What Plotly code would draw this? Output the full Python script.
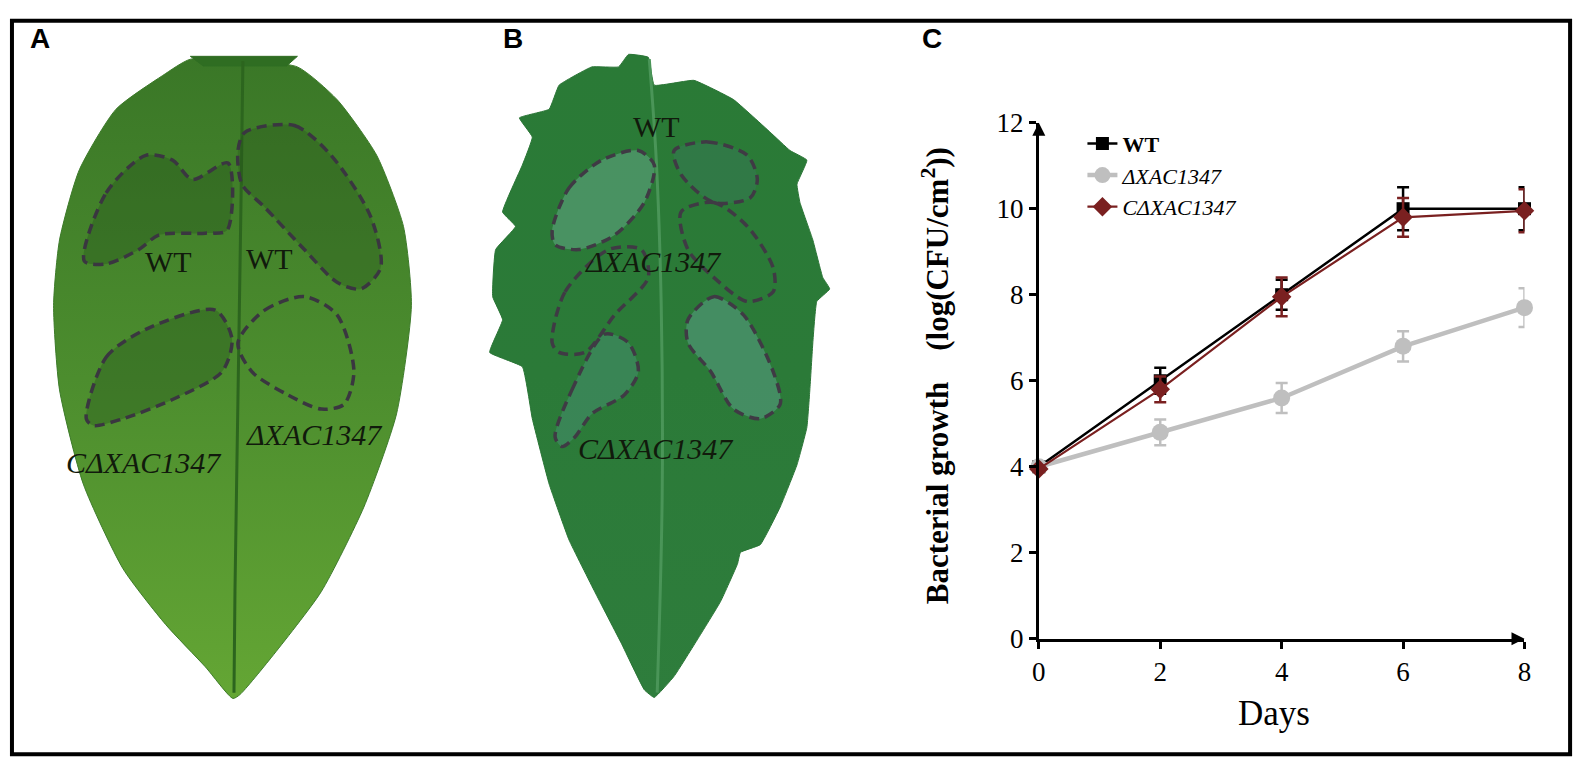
import plotly.graph_objects as go

# ---------------- chart data (panel C) ----------------
days = [0, 2, 4, 6, 8]
wt = [4.0, 6.0, 8.0, 10.0, 10.0]
wt_err = [0.05, 0.3, 0.35, 0.5, 0.5]
dxac = [4.0, 4.8, 5.6, 6.8, 7.7]
dxac_err = [0.05, 0.3, 0.35, 0.35, 0.45]
cdxac = [3.95, 5.8, 7.95, 9.8, 9.95]
cdxac_err = [0.05, 0.3, 0.45, 0.45, 0.5]
x_ticks = [0, 2, 4, 6, 8]
y_ticks = [0, 2, 4, 6, 8, 10, 12]
series_names = ["<b>WT</b>", "<i>ΔXAC1347</i>", "<i>CΔXAC1347</i>"]

W, H = 1587, 774

# ---------------- illustration outlines (panels A, B), pixel space ----------------
leaf_a = [(185, 46), (157, 63), (110, 98), (73, 161), (53, 234), (47, 302), (53, 390),
          (77, 488), (117, 576), (160, 634), (200, 678), (228, 711), (235, 707),
          (267, 668), (317, 600), (360, 512), (393, 415), (408, 302), (400, 220),
          (373, 146), (333, 88), (293, 54), (240, 48)]
leaf_a_petiole = [(185, 43), (293, 43), (282, 53), (198, 53), (185, 43)]
leaf_a_rib = [(238, 48), (236, 200), (233, 400), (230, 600), (229, 705)]
a_lesions = [
    [(78, 256), (100, 185), (140, 146), (167, 151), (187, 171), (223, 154), (222, 224),
     (200, 227), (153, 229), (133, 244), (100, 259), (78, 256)],
    [(240, 122), (290, 115), (327, 146), (367, 210), (377, 263), (357, 285), (333, 278),
     (300, 244), (260, 200), (237, 176), (233, 141), (240, 122)],
    [(80, 420), (100, 356), (140, 327), (210, 307), (227, 337), (217, 371), (167, 400),
     (117, 420), (87, 427), (80, 420)],
    [(233, 341), (260, 307), (300, 293), (333, 312), (350, 371), (340, 405), (317, 410),
     (283, 395), (247, 371), (233, 341)],
]
a_lesion_fill = ["rgba(35,80,25,0.35)", "rgba(35,80,25,0.30)", "rgba(35,80,25,0.35)", "rgba(0,0,0,0)"]
a_labels = [("WT", 163, 256, False), ("WT", 265, 253, False),
            ("ΔXAC1347", 310, 436, True), ("CΔXAC1347", 138, 466, True)]

leaf_b = [(627, 41), (647, 44), (653, 73), (693, 68), (733, 88), (770, 122), (790, 141),
          (807, 151), (797, 176), (800, 195), (813, 234), (823, 273), (830, 285),
          (817, 298), (813, 341), (810, 390), (807, 429), (797, 468), (780, 512),
          (760, 551), (740, 559), (737, 571), (720, 610), (697, 649), (673, 688),
          (653, 710), (643, 702), (620, 654), (593, 600), (567, 546), (547, 488),
          (530, 420), (520, 366), (487, 351), (500, 317), (490, 293), (493, 244),
          (513, 220), (500, 205), (520, 156), (530, 127), (517, 107), (547, 98),
          (557, 73), (590, 54), (617, 54), (627, 41)]
leaf_b_rib = [(648, 46), (655, 150), (660, 300), (661, 500), (656, 705)]
b_lesions = [
    [(550, 224), (567, 180), (600, 151), (637, 141), (653, 156), (643, 195), (613, 229),
     (577, 244), (553, 239), (550, 224)],
    [(673, 141), (707, 132), (747, 146), (757, 171), (750, 190), (713, 195), (680, 166),
     (673, 141)],
    [(680, 205), (713, 195), (747, 220), (773, 263), (773, 288), (747, 298), (713, 273),
     (687, 244), (680, 205)],
    [(550, 341), (563, 288), (607, 244), (640, 244), (647, 273), (613, 312), (583, 351),
     (557, 351), (550, 341)],
    [(553, 439), (570, 390), (603, 332), (627, 341), (637, 371), (623, 395), (590, 415),
     (573, 439), (560, 449), (553, 439)],
    [(687, 317), (713, 293), (743, 312), (773, 371), (780, 405), (760, 420), (733, 410),
     (710, 371), (687, 341), (687, 317)],
]
b_lesion_fill = ["rgba(110,175,150,0.45)", "rgba(60,120,100,0.35)", "rgba(0,0,0,0)",
                 "rgba(0,0,0,0)", "rgba(80,150,130,0.40)", "rgba(100,165,150,0.45)"]
b_labels = [("WT", 655, 116, False), ("ΔXAC1347", 652, 256, True), ("CΔXAC1347", 655, 451, True)]

panel_letters = [("A", 33, 24), ("B", 510, 24), ("C", 933, 24)]

fig = go.Figure()

def deco(pts, **kw):
    fig.add_trace(go.Scatter(x=[p[0] for p in pts], y=[p[1] for p in pts],
                             xaxis="x2", yaxis="y2", showlegend=False,
                             hoverinfo="skip", **kw))

# leaf A
deco(leaf_a + [leaf_a[0]], mode="lines", fill="toself",
     line=dict(color="#3d7b2a", width=1, shape="spline", smoothing=0.6),
     fillcolor="#4b8c2d",
     fillgradient=dict(type="vertical",
                       colorscale=[[0, "#64a634"], [0.5, "#4c8d2e"], [1, "#3a7727"]]))
deco(leaf_a_petiole, mode="lines", fill="toself", line=dict(color="#2f6d22", width=1),
     fillcolor="#2f6d22")
deco(leaf_a_rib, mode="lines", line=dict(color="#2c651e", width=3, shape="spline"))
for pts, fc in zip(a_lesions, a_lesion_fill):
    deco(pts, mode="lines", fill="toself", fillcolor=fc,
         line=dict(color="#3a3640", width=3.5, dash="10px,6px", shape="spline", smoothing=0.8))

# leaf B
deco(leaf_b, mode="lines", fill="toself",
     line=dict(color="#2a7536", width=1, shape="spline", smoothing=0.3),
     fillcolor="#2c7b39",
     fillgradient=dict(type="vertical",
                       colorscale=[[0, "#2e7d3c"], [0.5, "#2b7a38"], [1, "#2a7a36"]]))
deco(leaf_b_rib, mode="lines", line=dict(color="#4a9558", width=3, shape="spline"))
for pts, fc in zip(b_lesions, b_lesion_fill):
    deco(pts, mode="lines", fill="toself", fillcolor=fc,
         line=dict(color="#3f3a44", width=3.5, dash="10px,6px", shape="spline", smoothing=0.8))

# ---------------- chart traces ----------------
styles = [
    (wt, wt_err, "#000000", "square", 13, 2.5),
    (dxac, dxac_err, "#bfbfbf", "circle", 17, 4.5),
    (cdxac, cdxac_err, "#7a2020", "diamond", 15, 2.2),
]
for name, (yv, ev, col, sym, ms, lw) in zip(series_names, styles):
    fig.add_trace(go.Scatter(
        x=days, y=yv, name=name, mode="lines+markers",
        line=dict(color=col, width=lw),
        marker=dict(color=col, symbol=sym, size=ms),
        error_y=dict(type="data", array=ev, color=col, thickness=2.5, width=6),
        cliponaxis=False, xaxis="x", yaxis="y"))

# axis arrowheads (tips at the ends of the axis ranges)
fig.add_trace(go.Scatter(x=[min(x_ticks), max(x_ticks)], y=[max(y_ticks), min(y_ticks)],
                         mode="markers", showlegend=False, hoverinfo="skip", cliponaxis=False,
                         marker=dict(symbol=["arrow-up", "arrow-right"], size=13, color="black"),
                         xaxis="x", yaxis="y"))

tick_font = dict(family="Liberation Serif", size=27, color="black")
x0, x1 = 1041 / W, 1531 / W
y0, y1 = 1 - 649 / H, 1 - 112 / H

annotations = []
for txt, x, y, it in a_labels + b_labels:
    annotations.append(dict(x=x, y=y, xref="x2", yref="y2", showarrow=False,
                            text=f"<i>{txt}</i>" if it else txt,
                            font=dict(family="Liberation Serif", size=30, color="#111a0c")))
for txt, x, y in panel_letters:
    annotations.append(dict(x=x, y=y, xref="x2", yref="y2", showarrow=False,
                            text=f"<b>{txt}</b>",
                            font=dict(family="Liberation Sans", size=28, color="black")))
# axis titles
annotations.append(dict(x=937, y=375, xref="x2", yref="y2", showarrow=False,
                        textangle=-90,
                        text="<b>Bacterial growth\u00a0\u00a0\u00a0\u00a0(log(CFU/cm<sup>2</sup>))</b>",
                        font=dict(family="Liberation Serif", size=31, color="black")))
annotations.append(dict(x=1278, y=727, xref="x2", yref="y2", showarrow=False,
                        text="Days",
                        font=dict(family="Liberation Serif", size=35, color="black")))

fig.update_layout(
    width=W, height=H, autosize=False,
    margin=dict(l=0, r=0, t=0, b=0),
    paper_bgcolor="white", plot_bgcolor="rgba(0,0,0,0)",
    xaxis=dict(domain=[x0, x1], range=[0, 8], tickvals=x_ticks, showgrid=False,
               zeroline=False, showline=True, linecolor="black", linewidth=3,
               ticks="outside", ticklen=7, tickwidth=2.5, tickcolor="black",
               tickfont=tick_font, anchor="y", fixedrange=True),
    yaxis=dict(domain=[y0, y1], range=[0, 12], tickvals=y_ticks, showgrid=False,
               zeroline=False, showline=True, linecolor="black", linewidth=3,
               ticks="outside", ticklen=7, tickwidth=2.5, tickcolor="black",
               tickfont=tick_font, anchor="x", fixedrange=True),
    xaxis2=dict(domain=[0, 1], range=[0, W], visible=False, anchor="y2", fixedrange=True),
    yaxis2=dict(domain=[0, 1], range=[H, 0], visible=False, anchor="x2", fixedrange=True),
    legend=dict(x=1085 / W, y=1 - 112 / H, xanchor="left", yanchor="top",
                font=dict(family="Liberation Serif", size=22, color="black"),
                bgcolor="rgba(0,0,0,0)", tracegroupgap=0, itemwidth=30),
    annotations=annotations,
    shapes=[dict(type="rect", xref="x2", yref="y2", x0=5, y0=6, x1=1577, y1=769,
                 line=dict(color="black", width=4), fillcolor="rgba(0,0,0,0)")],
    showlegend=True,
)

fig.write_html("out.html", config={"displayModeBar": False},
               post_script="document.body.style.margin='0';document.body.style.overflow='hidden';")
